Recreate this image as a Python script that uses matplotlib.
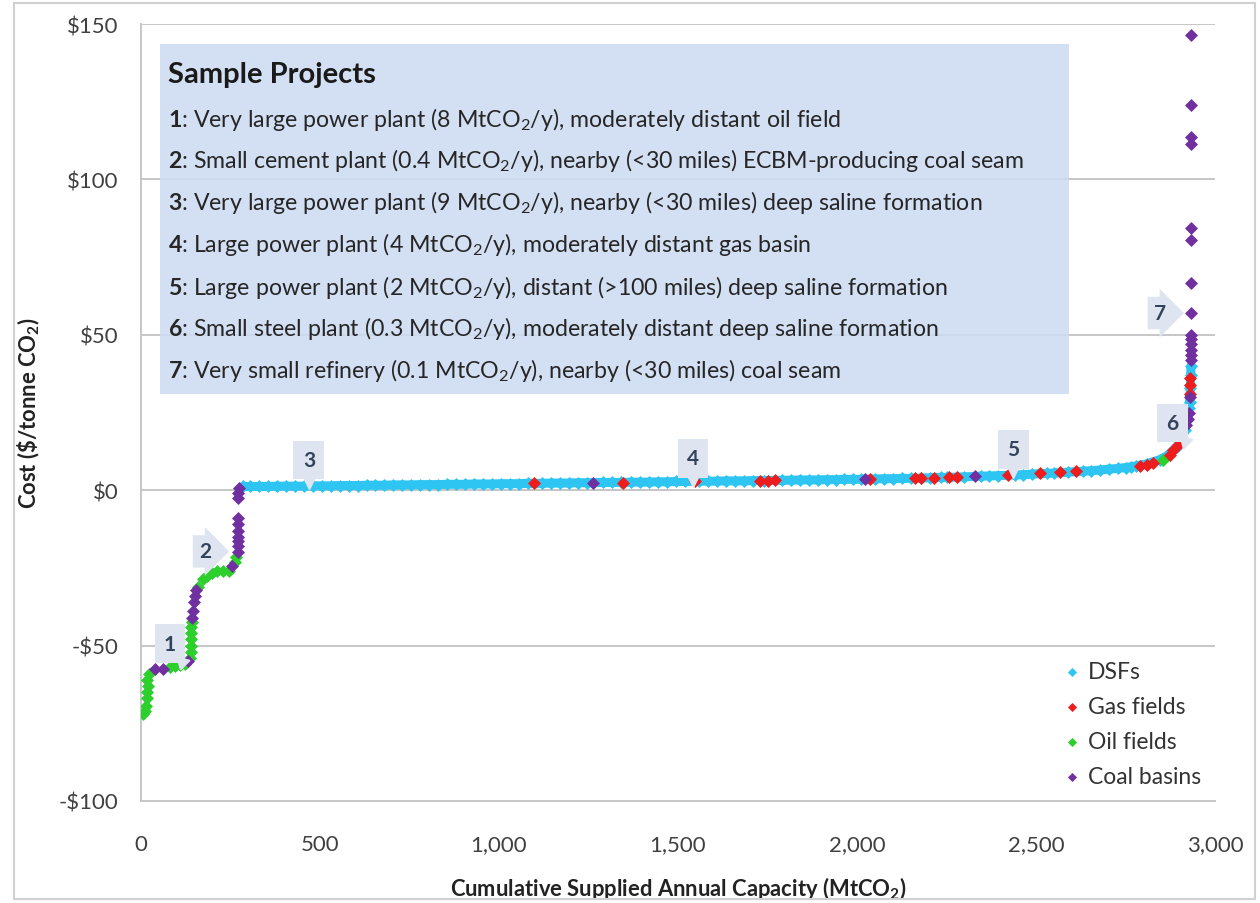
import numpy as np
import matplotlib.pyplot as plt
from matplotlib.patches import Rectangle
from matplotlib.ticker import FuncFormatter
from matplotlib.transforms import offset_copy

plt.rcParams['font.family'] = ['Lato', 'DejaVu Sans']
plt.rcParams['mathtext.fontset'] = 'custom'
plt.rcParams['mathtext.rm'] = 'Lato'
plt.rcParams['mathtext.bf'] = 'Lato:bold'
plt.rcParams['mathtext.it'] = 'Lato:italic'

# deep saline formations (cumulative MtCO2, $/tonne)
dsf_x = [285, 305, 330, 355, 380, 405, 430, 455, 480, 505, 530, 555, 580, 605, 630,
         655, 680, 705, 730, 755, 780, 805, 830, 855, 880, 905, 930, 955, 980, 1005,
         1030, 1055, 1080, 1120, 1145, 1170, 1195, 1220, 1245, 1290, 1315, 1340, 1370,
         1395, 1420, 1445, 1470, 1495, 1520, 1560, 1585, 1610, 1635, 1660, 1685, 1710,
         1740, 1790, 1815, 1840, 1865, 1890, 1915, 1940, 1965, 1990, 2010, 2050, 2075,
         2100, 2125, 2150, 2180, 2205, 2235, 2250, 2300, 2345, 2370, 2395, 2440, 2465,
         2490, 2530, 2550, 2590, 2630, 2655, 2680, 2705, 2730, 2750, 2765, 2780, 2810,
         2845, 2865, 2880, 2893, 2908, 2916, 2922, 2926, 2929, 2931, 2932, 2933]
dsf_y = [1.2, 1.2, 1.2, 1.2, 1.3, 1.3, 1.3, 1.3, 1.4, 1.4, 1.4, 1.5, 1.5, 1.5, 1.6,
         1.6, 1.6, 1.7, 1.7, 1.7, 1.8, 1.8, 1.8, 1.9, 1.9, 1.9, 2.0, 2.0, 2.0, 2.1,
         2.1, 2.1, 2.2, 2.2, 2.3, 2.3, 2.3, 2.4, 2.4, 2.5, 2.5, 2.5, 2.6,
         2.6, 2.6, 2.7, 2.7, 2.8, 2.8, 2.9, 2.9, 2.9, 3.0, 3.0, 3.0, 3.1,
         3.1, 3.2, 3.2, 3.3, 3.3, 3.3, 3.4, 3.4, 3.5, 3.5, 3.5, 3.6, 3.7,
         3.7, 3.8, 3.8, 3.9, 4.0, 4.1, 4.1, 4.3, 4.5, 4.6, 4.7, 4.9, 5.0,
         5.2, 5.4, 5.5, 5.8, 6.1, 6.3, 6.5, 6.8, 7.0, 7.3, 7.5, 7.8, 8.5,
         9.8, 11.0, 12.5, 14.0, 16.5, 19.5, 22.5, 26.5, 28.5, 33.0, 37.0, 40.0]

gas_x = [1098, 1346, 1547, 1729, 1750, 1771, 2036, 2162, 2180, 2215, 2258, 2279,
         2422, 2511, 2567, 2612, 2790, 2810, 2827, 2874, 2883, 2897, 2902, 2930, 2930, 2930]
gas_y = [2.3, 2.3, 2.9, 3.1, 3.1, 3.2, 3.6, 3.9, 3.9, 4.0, 4.2, 4.2,
         4.8, 5.4, 5.8, 6.1, 7.7, 8.2, 8.7, 11.3, 12.8, 14.5, 15.8, 31.0, 34.0, 36.0]

oil_x = [5, 10, 15, 18, 16, 19, 17, 22, 80, 95, 110, 122, 138, 139, 140, 140, 141,
         141, 142, 160, 172, 185, 198, 212, 229, 245, 262, 265, 2855]
oil_y = [-72, -71, -69.5, -67, -65, -63, -61, -59, -56.8, -56.6, -56.4, -56, -54, -52,
         -50, -48, -46, -44, -42.5, -31, -28.5, -27.5, -26.5, -26, -26, -26, -23, -21.5, 9.7]

coal_x = [39, 61, 131, 143, 145, 147, 150, 154, 254, 270, 270, 270, 270, 271, 271, 271,
          272, 272, 273, 1263, 2022, 2330, 2920, 2925, 2928, 2930, 2932, 2932, 2932, 2932,
          2932, 2932, 2932, 2932, 2932, 2932, 2932, 2932, 2932, 2932]
coal_y = [-57.4, -57.4, -55, -41, -39, -36, -34, -32, -24.5, -20, -18, -16.5, -15, -13,
          -11, -9, -2.5, -1, 0.6, 2.3, 3.5, 4.5, 21, 23, 25, 30, 42, 43.5, 45, 47,
          48.5, 50, 57, 66.8, 80.5, 84.5, 111.5, 113.5, 124, 146.5]

projects = [
    "Very large power plant (8 MtCO$_2$/y), moderately distant oil field",
    "Small cement plant (0.4 MtCO$_2$/y), nearby (<30 miles) ECBM-producing coal seam",
    "Very large power plant (9 MtCO$_2$/y), nearby (<30 miles) deep saline formation",
    "Large power plant (4 MtCO$_2$/y), moderately distant gas basin",
    "Large power plant (2 MtCO$_2$/y), distant (>100 miles) deep saline formation",
    "Small steel plant (0.3 MtCO$_2$/y), moderately distant deep saline formation",
    "Very small refinery (0.1 MtCO$_2$/y), nearby (<30 miles) coal seam",
]
# callout label positions (data coords) and pointer direction
callout_x = [81, 179, 469, 1542, 2436, 2880, 2846]
callout_y = [-49.4, -19.7, 9.7, 10.3, 13.2, 21.6, 57]
callout_dir = ['dr', 'r', 'd', 'd', 'd', 'dr', 'r']

fig = plt.figure(figsize=(12.6, 9.04), dpi=100)
ax = fig.add_axes([141/1260, 1 - 802/904, 1074/1260, 777/904])

grid_c = '#c6c6c6'
ax.set_xlim(0, 3000)
ax.set_ylim(-100, 150)
ax.set_xticks([0, 500, 1000, 1500, 2000, 2500, 3000])
ax.set_yticks([-100, -50, 0, 50, 100, 150])
ax.xaxis.set_major_formatter(FuncFormatter(lambda v, p: f"{int(v):,}"))
ax.yaxis.set_major_formatter(FuncFormatter(lambda v, p: f"-${abs(int(v))}" if v < 0 else f"${int(v)}"))
ax.tick_params(length=0, labelsize=16, labelcolor='#404040')
ax.tick_params(axis='x', pad=24)
ax.tick_params(axis='y', pad=16)
ax.grid(axis='y', color=grid_c, lw=1.4)
ax.set_axisbelow(True)
for s in ['top', 'right']:
    ax.spines[s].set_visible(False)
for s in ['left', 'bottom']:
    ax.spines[s].set_color(grid_c)
    ax.spines[s].set_linewidth(1.4)

ax.set_xlabel(r"Cumulative Supplied Annual Capacity (MtCO$_\mathbf{2}$)", fontsize=15.8,
              fontweight='bold', color='#222222', labelpad=14)
ax.set_ylabel(r"Cost (\$/tonne CO$_\mathbf{2}$)", fontsize=15.8, fontweight='bold',
              color='#222222', labelpad=12)

ms = 44
dsf_c = '#2ec5f2'
# DSF sites are packed so tightly they read as one band
ax.plot(dsf_x, dsf_y, color=dsf_c, lw=6.5, solid_capstyle='round', zorder=4)
h_dsf = ax.scatter(dsf_x, dsf_y, s=ms, marker='D', color=dsf_c, lw=0, zorder=4, label='DSFs')
h_oil = ax.scatter(oil_x, oil_y, s=ms, marker='D', color='#2ccf2c', lw=0, zorder=5, label='Oil fields')
h_gas = ax.scatter(gas_x, gas_y, s=ms, marker='D', color='#ee1c1c', lw=0, zorder=5, label='Gas fields')
h_coal = ax.scatter(coal_x, coal_y, s=ms, marker='D', color='#7030a0', lw=0, zorder=6, label='Coal basins')

leg = ax.legend(handles=[h_dsf, h_gas, h_oil, h_coal], loc='upper left',
                bbox_to_anchor=(0.837, 0.207), frameon=False, fontsize=16.5,
                handlelength=1.0, handletextpad=0.2, labelspacing=0.62, markerscale=0.7)
for t in leg.get_texts():
    t.set_color('#333333')

# sample projects box
ax.add_patch(Rectangle((0.0177, 0.524), 0.846, 0.45, transform=ax.transAxes,
                       fc='#cddbf1', ec='none', alpha=0.88, zorder=3))
ax.text(0.025, 0.936, "Sample Projects", transform=ax.transAxes, fontsize=21,
        fontweight='bold', color='#1a1a1a', va='center', zorder=7)
line_y = [0.878, 0.825, 0.771, 0.718, 0.662, 0.609, 0.555]
for i, (txt, yy) in enumerate(zip(projects, line_y)):
    ax.text(0.025, yy, rf"$\mathbf{{{i + 1}}}$: " + txt, transform=ax.transAxes,
            fontsize=16.7, color='#262626', va='center', zorder=7)

# numbered callouts
box_c = '#dfe5f0'
for i, (cx, cy, d) in enumerate(zip(callout_x, callout_y, callout_dir)):
    style = 'rarrow,pad=0.3' if d == 'r' else 'square,pad=0.45'
    ax.text(cx, cy, str(i + 1), fontsize=15, fontweight='bold', color='#34435c',
            ha='center', va='center', zorder=8,
            bbox=dict(boxstyle=style, fc=box_c, ec='none'))
    if d == 'd':
        tr = offset_copy(ax.transData, fig=fig, x=0, y=-15, units='points')
        ax.plot(cx, cy, marker='v', ms=12, color=box_c, transform=tr, zorder=7)
    elif d == 'dr':
        tr = offset_copy(ax.transData, fig=fig, x=9, y=-13, units='points')
        ax.plot(cx, cy, marker=(3, 0, 45), ms=11, color=box_c, transform=tr, zorder=7)

# outer frame
fig.patches.append(Rectangle((14/1260, 4/904), 1241/1260, 896/904, transform=fig.transFigure,
                             fill=False, ec='#d0d0d0', lw=1.5))

fig.savefig('out.png', dpi=100)
